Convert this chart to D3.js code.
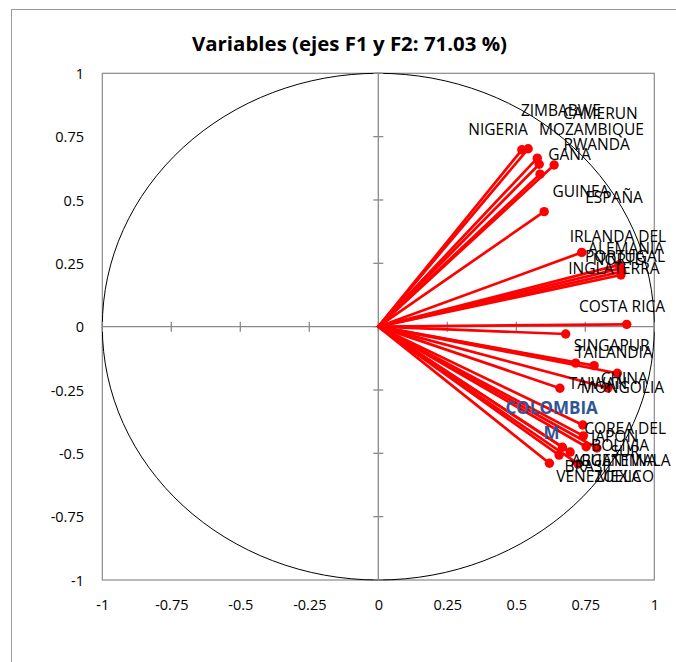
<!DOCTYPE html>
<html>
<head>
<meta charset="utf-8">
<script src="https://cdn.jsdelivr.net/npm/d3@7"></script>
<style>
  html, body { margin: 0; padding: 0; background: #fff; }
  svg { display: block; }
  text { font-family: "Open Sans", "DejaVu Sans", sans-serif; }
</style>
</head>
<body>
<svg id="chart" width="676" height="662"></svg>
<script>
// Correlation circle: loadings of each variable on F1 and F2
const variables = [
  "NIGERIA", "ZIMBABWE", "CAMERUN", "MOZAMBIQUE", "RWANDA", "GANA", "GUINEA",
  "ESPAÑA", "IRLANDA DEL NORTE", "ALEMANIA", "PORTUGAL", "INGLATERRA",
  "COSTA RICA",
  "SINGAPUR", "TAILANDIA", "", "CHINA", "MONGOLIA", "TAIWAN",
  "COREA DEL SUR", "JAPON", "BOLIVIA", "GUATEMALA", "ARGENTINA", "BRASIL",
  "VENEZUELA", "MEXICO", "COLOMBIA M"
];
const f1 = [
  0.520, 0.543, 0.583, 0.576, 0.637, 0.586, 0.601,
  0.737, 0.872, 0.878, 0.882, 0.879,
  0.900,
  0.679, 0.715, 0.782, 0.866, 0.832, 0.658,
  0.741, 0.743, 0.753, 0.792, 0.667, 0.655,
  0.620, 0.724, 0.695
];
const f2 = [
  0.698, 0.702, 0.641, 0.665, 0.638, 0.602, 0.454,
  0.293, 0.244, 0.230, 0.217, 0.204,
  0.009,
  -0.029, -0.144, -0.154, -0.184, -0.242, -0.243,
  -0.388, -0.431, -0.474, -0.479, -0.476, -0.507,
  -0.539, -0.542, -0.495
];
// label nudges (pixels, label block centre relative to its point)
const labelDx = [
  -23.7, 32.7, 61.2, 54.2, 42.5, 29.5, 36.7,
  32.3, -1, 5.5, 3.3, -7,
  -4.7,
  46, 38.3, 0, 6.9, 14.5, 38,
  42.3, 31.2, 34, 28, 51.7, 30.5,
  49.2, 47, -18.5
];
const labelDy = [
  -20.7, -38.3, -51, -29, -20.7, -20, -20,
  -55.2, -17, -20.2, -15, -6.7,
  -18.3,
  11, -10.6, 0, 5, -0.7, -5,
  15.3, 0.7, -1.7, 12, 12.7, 11.7,
  13.4, 12.7, -31.7
];
// variables written in bold blue
const highlighted = ["COLOMBIA M"];

const tickValues = [-1, -0.75, -0.5, -0.25, 0, 0.25, 0.5, 0.75, 1];
const tickLabels = ["-1", "-0.75", "-0.5", "-0.25", "0", "0.25", "0.5", "0.75", "1"];
const title = "Variables (ejes F1 y F2: 71.03 %)";

const svg = d3.select("#chart");
const W = 676, H = 662;
const plot = { left: 102.3, right: 654.3, top: 73.3, bottom: 580 };

const x = d3.scaleLinear().domain([-1, 1]).range([plot.left, plot.right]);
const y = d3.scaleLinear().domain([-1, 1]).range([plot.bottom, plot.top]);

const gray = "#8a8a8a";

// outer chart frame
svg.append("rect")
  .attr("x", 11.5).attr("y", 9.5)
  .attr("width", W + 20).attr("height", H + 20)
  .attr("fill", "none").attr("stroke", "#9a9a9a").attr("stroke-width", 1);

// title
svg.append("text")
  .attr("x", 349.5).attr("y", 51)
  .attr("text-anchor", "middle")
  .attr("font-size", 20).attr("font-weight", "bold")
  .attr("textLength", 315).attr("lengthAdjust", "spacingAndGlyphs")
  .text(title);

// plot frame
svg.append("rect")
  .attr("x", x(-1)).attr("y", y(1))
  .attr("width", x(1) - x(-1)).attr("height", y(-1) - y(1))
  .attr("fill", "none").attr("stroke", gray).attr("stroke-width", 1.2);

// unit circle
svg.append("ellipse")
  .attr("cx", x(0)).attr("cy", y(0))
  .attr("rx", x(1) - x(0)).attr("ry", y(0) - y(1))
  .attr("fill", "none").attr("stroke", "#000").attr("stroke-width", 1);

// zero axes with crossing tick marks
const axes = svg.append("g").attr("stroke", gray).attr("stroke-width", 1.3);
axes.append("line").attr("x1", x(-1)).attr("x2", x(1)).attr("y1", y(0)).attr("y2", y(0));
axes.append("line").attr("x1", x(0)).attr("x2", x(0)).attr("y1", y(-1)).attr("y2", y(1));
axes.selectAll(".tx").data(tickValues).join("line")
  .attr("x1", d => x(d)).attr("x2", d => x(d))
  .attr("y1", y(0) - 5).attr("y2", y(0) + 5);
axes.selectAll(".ty").data(tickValues).join("line")
  .attr("y1", d => y(d)).attr("y2", d => y(d))
  .attr("x1", x(0) - 5).attr("x2", x(0) + 5);

// tick labels through d3 axes
const xAxis = d3.axisBottom(x).tickValues(tickValues)
  .tickFormat((d, i) => tickLabels[i]).tickSize(0).tickPadding(0);
const gx = svg.append("g").attr("transform", `translate(0,${plot.bottom + 25})`).call(xAxis);
gx.select(".domain").remove();
gx.selectAll("text").attr("font-size", 14.5).attr("fill", "#000")
  .attr("font-family", "\"Open Sans\", sans-serif").attr("dy", "0.35em");

const yAxis = d3.axisLeft(y).tickValues(tickValues)
  .tickFormat((d, i) => tickLabels[i]).tickSize(0).tickPadding(0);
const gy = svg.append("g").attr("transform", `translate(${84},0)`).call(yAxis);
gy.select(".domain").remove();
gy.selectAll("text").attr("font-size", 14.5).attr("fill", "#000")
  .attr("font-family", "\"Open Sans\", sans-serif").attr("dy", "0.35em");

// vectors
const data = variables.map((name, i) => ({ name, f1: f1[i], f2: f2[i], dx: labelDx[i], dy: labelDy[i] }));

svg.append("g").selectAll("line").data(data).join("line")
  .attr("x1", x(0)).attr("y1", y(0))
  .attr("x2", d => x(d.f1)).attr("y2", d => y(d.f2))
  .attr("stroke", "#ff0000").attr("stroke-width", 2.7).attr("stroke-linecap", "round");

svg.append("g").selectAll("circle").data(data).join("circle")
  .attr("cx", d => x(d.f1)).attr("cy", d => y(d.f2))
  .attr("r", 4.7).attr("fill", "#ff0000");

// labels, wrapped at spaces when wider than the label box
const maxLabelWidth = 104;
const labels = svg.append("g");
data.filter(d => d.name).forEach(d => {
  const hi = highlighted.includes(d.name);
  const fs = hi ? 17 : 15.5;
  const lh = fs * 1.5;
  const t = labels.append("text")
    .attr("text-anchor", "middle")
    .attr("font-size", fs)
    .attr("font-weight", hi ? "bold" : "normal")
    .attr("fill", hi ? "#2f5597" : "#000");
  const words = d.name.split(" ");
  const lines = [];
  let cur = [];
  words.forEach(w => {
    const trial = cur.concat([w]).join(" ");
    t.text(trial);
    if (cur.length && t.node().getComputedTextLength() > maxLabelWidth) {
      lines.push(cur.join(" "));
      cur = [w];
    } else {
      cur.push(w);
    }
  });
  lines.push(cur.join(" "));
  t.text(null);
  const cx = x(d.f1) + d.dx;
  const cy = y(d.f2) + d.dy;
  const top = cy - (lines.length - 1) * lh / 2;
  lines.forEach((ln, k) => {
    t.append("tspan").attr("x", cx).attr("y", top + k * lh).attr("dy", "0.36em").text(ln);
  });
});
</script>
</body>
</html>
